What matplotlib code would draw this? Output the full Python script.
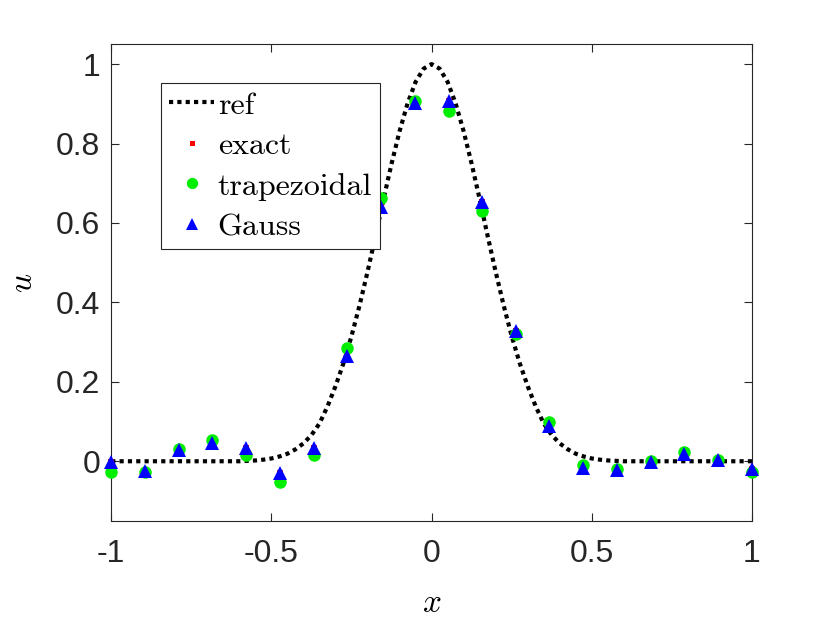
import matplotlib
matplotlib.use("Agg")
import matplotlib.pyplot as plt

# reference curve
x_ref = [-1.0, -0.7, -0.65, -0.6, -0.575, -0.55, -0.525, -0.5, -0.475, -0.45, -0.425, -0.4,
         -0.375, -0.35, -0.325, -0.3, -0.275, -0.25, -0.225, -0.2, -0.175, -0.15, -0.125,
         -0.1, -0.075, -0.05, -0.025, 0.0, 0.025, 0.05, 0.075, 0.1, 0.125, 0.15, 0.175, 0.2,
         0.225, 0.25, 0.275, 0.3, 0.325, 0.35, 0.375, 0.4, 0.425, 0.45, 0.475, 0.5, 0.525,
         0.55, 0.575, 0.6, 0.65, 0.7, 1.0]
u_ref = [0.0, 0.0, 0.0, 0.0, 0.001, 0.002, 0.004, 0.007, 0.012, 0.019, 0.030, 0.045,
         0.066, 0.095, 0.138, 0.189, 0.247, 0.315, 0.392, 0.477, 0.567, 0.660, 0.749,
         0.831, 0.901, 0.955, 0.9885, 1.0, 0.9885, 0.955, 0.901, 0.831, 0.749, 0.660, 0.567, 0.477,
         0.392, 0.315, 0.247, 0.189, 0.138, 0.095, 0.066, 0.045, 0.030, 0.019, 0.012, 0.007, 0.004,
         0.002, 0.001, 0.0, 0.0, 0.0, 0.0]

x_pts = [-1.0, -0.895, -0.789, -0.684, -0.579, -0.474, -0.368, -0.263, -0.158, -0.053,
         0.053, 0.158, 0.263, 0.368, 0.474, 0.579, 0.684, 0.789, 0.895, 1.0]
u_trap = [-0.026, -0.028, 0.031, 0.054, 0.016, -0.051, 0.016, 0.286, 0.662, 0.906,
          0.881, 0.631, 0.320, 0.098, -0.009, -0.019, 0.001, 0.023, 0.003, -0.026]
u_gauss = [-0.001, -0.025, 0.028, 0.045, 0.034, -0.030, 0.033, 0.266, 0.639, 0.902,
           0.908, 0.654, 0.327, 0.090, -0.018, -0.022, -0.001, 0.018, 0.003, -0.019]
u_exact = [-0.001, -0.025, 0.028, 0.045, 0.034, -0.030, 0.033, 0.266, 0.639, 0.902,
           0.908, 0.654, 0.327, 0.090, -0.018, -0.022, -0.001, 0.018, 0.003, -0.019]

x_ticks = [-1, -0.5, 0, 0.5, 1]
x_ticklabels = ["-1", "-0.5", "0", "0.5", "1"]
y_ticks = [0, 0.2, 0.4, 0.6, 0.8, 1]
y_ticklabels = ["0", "0.2", "0.4", "0.6", "0.8", "1"]

plt.rcParams['mathtext.fontset'] = 'cm'

fig = plt.figure(figsize=(8.3, 6.23), dpi=100)
ax = fig.add_axes([0.134, 0.164, 0.772, 0.765])

ax.plot(x_ref, u_ref, color='black', linewidth=3.0, linestyle=(0, (1, 1)),
        dash_capstyle='butt', label='ref', zorder=2)
ax.plot(x_pts, u_exact, linestyle='none', marker='s', markersize=4, color='red',
        markeredgewidth=0, label='exact', zorder=3, clip_on=False)
ax.plot(x_pts, u_trap, linestyle='none', marker='o', markersize=9, color='#00ee00',
        markeredgewidth=0, label='trapezoidal', zorder=3, clip_on=False)
ax.plot(x_pts, u_gauss, linestyle='none', marker='^', markersize=10, color='blue',
        markeredgewidth=0, label='Gauss', zorder=4, clip_on=False)

ax.set_xlim(-1, 1)
ax.set_ylim(-0.15, 1.05)
ax.set_xticks(x_ticks)
ax.set_xticklabels(x_ticklabels)
ax.set_yticks(y_ticks)
ax.set_yticklabels(y_ticklabels)
for lab in ax.get_xticklabels() + ax.get_yticklabels():
    lab.set_family('Liberation Sans')
    lab.set_fontsize(23)
    lab.set_color('#262626')
ax.tick_params(direction='in', length=6, width=0.8, top=True, right=True,
               colors='#262626', labelcolor='#262626', pad=8)
ax.tick_params(axis='x', pad=13)
for s in ax.spines.values():
    s.set_color('#262626')
    s.set_linewidth(0.8)

ax.set_xlabel(r'$x$', fontsize=24, labelpad=12)
ax.set_ylabel(r'$u$', fontsize=24, labelpad=12)

leg = ax.legend(loc='upper left', bbox_to_anchor=(0.078, 0.918), borderaxespad=0,
                prop={'family': 'cmr10', 'size': 23}, frameon=True, fancybox=False,
                handlelength=1.4, handletextpad=0.12, labelspacing=0.38,
                borderpad=0.25, markerscale=0.9)
leg.get_frame().set_edgecolor('#262626')
leg.get_frame().set_linewidth(0.8)
leg.get_frame().set_alpha(1)

fig.savefig('out.png', dpi=100)
